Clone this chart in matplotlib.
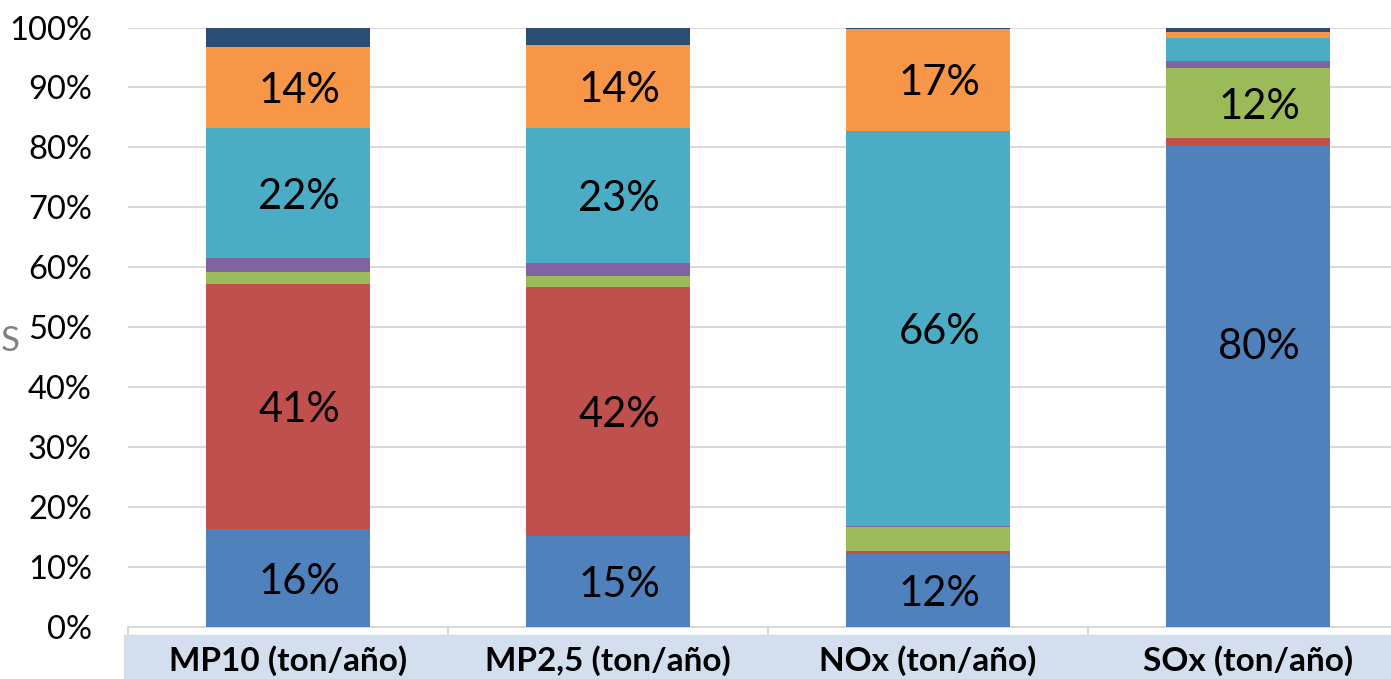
import matplotlib
matplotlib.use("Agg")
import matplotlib.pyplot as plt
from matplotlib.patches import Rectangle
from matplotlib.lines import Line2D
import numpy as np

plt.rcParams["font.family"] = ["Lato", "DejaVu Sans"]

categories = ["MP10 (ton/año)", "MP2,5 (ton/año)", "NOx (ton/año)", "SOx (ton/año)"]

# participación por fuente (%), de abajo hacia arriba
s_blue = [16.3, 15.2, 12.2, 80.2]
s_red = [40.9, 41.5, 0.5, 1.3]
s_green = [2.0, 1.8, 4.0, 11.8]
s_purple = [2.3, 2.2, 0.1, 1.1]
s_teal = [21.8, 22.6, 66.0, 3.9]
s_orange = [13.5, 13.7, 17.0, 1.0]
s_navy = [3.2, 3.0, 0.2, 0.7]

series = [s_blue, s_red, s_green, s_purple, s_teal, s_orange, s_navy]
colors = ["#4F81BD", "#C0504D", "#9BBB59", "#8064A2", "#4BACC6", "#F79646", "#2C4D75"]

# la etiqueta del SOx azul no está centrada en el original
label_y_override = {(0, 3): 46.7}

W, H = 1391, 679
fig = plt.figure(figsize=(W / 100, H / 100), dpi=100)
ax = fig.add_axes([128 / W, 1 - 627 / H, 1280 / W, (627 - 27.5) / H])

x = np.arange(len(categories))
bottom = np.zeros(len(categories))
for si, (vals, col) in enumerate(zip(series, colors)):
    vals = np.array(vals)
    ax.bar(x, vals, width=0.51, bottom=bottom, color=col, zorder=3)
    for xi, v, b in zip(x, vals, bottom):
        if v >= 10:
            yl = label_y_override.get((si, xi), b + v / 2 - 0.6)
            ax.text(xi + 0.035, yl, f"{round(v):.0f}%", ha="center", va="center",
                    fontsize=30, color="black", zorder=4)
    bottom += vals

ax.set_xlim(-0.5, 3.5)
ax.set_ylim(0, 100)
ax.set_yticks(np.arange(0, 101, 10))
ax.set_yticklabels([f"{t}%" for t in range(0, 101, 10)], fontsize=23.5)
ax.tick_params(axis="y", length=0, pad=26)
ax.set_xticks([])
ax.grid(axis="y", color="#D9D9D9", lw=1.5, zorder=0)
for sp in ["top", "right", "left"]:
    ax.spines[sp].set_visible(False)
ax.spines["bottom"].set_color("#D9D9D9")
ax.spines["bottom"].set_linewidth(1.5)

# banda de categorías
fig.patches.append(Rectangle((124 / W, 0), 1 - 124 / W, (679 - 635) / H,
                             transform=fig.transFigure, color="#D3DFEE", zorder=0))
for i in range(len(categories)):
    xb = (128 + 320 * i) / W
    fig.lines.append(Line2D([xb, xb], [1 - 627 / H, 1 - 635 / H],
                            transform=fig.transFigure, color="#D9D9D9", lw=1.5))
    fig.text((288 + 320 * i) / W, 1 - 661 / H, categories[i], ha="center", va="center",
             fontsize=24, fontweight="bold", color="black")

fig.text(1 / W, 1 - 341 / H, "S", ha="left", va="center", fontsize=25, color="#808080")

fig.savefig("out.png", dpi=100)
